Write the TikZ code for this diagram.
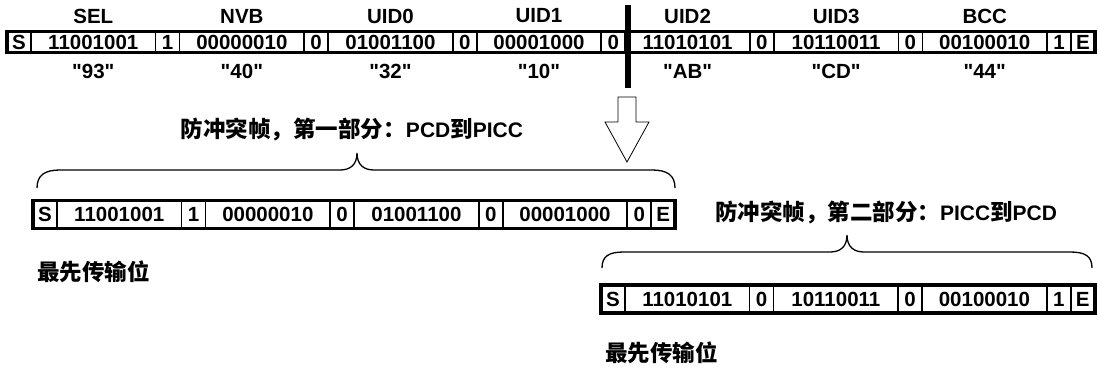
\documentclass[tikz,border=0pt]{standalone}
\usepackage{fontspec}
\setmainfont{Liberation Sans}
\newfontfamily\plainfont{Liberation Sans}
\newfontfamily\cjk{Noto Sans CJK SC}
\usetikzlibrary{calc}
\newcommand\zh[1]{{\cjk\bfseries\fontsize{22.5}{24}\selectfont #1}}
\tikzset{
  cell/.style={draw, line width=1.6pt, inner sep=0pt, outer sep=0pt, anchor=west,
    font=\bfseries\fontsize{20.5}{22}\selectfont},
  frame/.style={line width=3.6pt},
  lbl/.style={inner sep=0pt, font=\plainfont\bfseries\fontsize{20.5}{22}\selectfont},
  title/.style={inner sep=0pt, font=\bfseries\fontsize{21}{22}\selectfont},
  brace/.style={line width=1.3pt},
  hollow/.style={line width=0.8pt, fill=white, line join=miter},
}
\begin{document}
\begin{tikzpicture}[x=1pt, y=-1pt]
\path[use as bounding box] (0,0) rectangle (1098,372);

% ---- top row ----
\foreach \t/\w [count=\i] in {S/24,11001001/124.57,1/24,00000010/124.57,0/24,01001100/124.57,0/24,00001000/124.57,0/24,11010101/124.57,0/24,10110011/124.57,0/24,00100010/124.57,1/24,E/24}{
  \ifnum\i=1
    \node[cell, minimum width=\w pt, minimum height=21pt] (t\i) at (7,42) {\t};
  \else
    \pgfmathtruncatemacro\j{\i-1}
    \node[cell, minimum width=\w pt, minimum height=21pt] (t\i) at (t\j.east) {\t};
  \fi
}
\draw[frame] (t1.north west) rectangle (t16.south east);

\foreach \n/\h/\q in {2/SEL/93,4/NVB/40,6/UID0/32,8/UID1/10,10/UID2/AB,12/UID3/CD,14/BCC/44}{
  \node[lbl, yshift=26pt] (h\n) at (t\n.center) {\h};
  \node[lbl, yshift=-29pt] (q\n) at (t\n.center) {"\q"};
}

% divider
\draw[line width=6pt] (628,5) -- (628,88);

% hollow down arrow
\draw[hollow] (618,97) -- (636,97) -- (636,122) -- (649,122) -- (627,162) -- (605,122) -- (618,122) -- cycle;

% ---- part 1 ----
\node[title] (ti1) at (352,130) {\zh{防冲突帧，第一部分：}PCD\zh{到}PICC};
\draw[brace] (37,188) .. controls (37,175) and (45,170) .. (60,170) -- (340,170)
  .. controls (350,170) and (357,165) .. (357,153)
  .. controls (357,165) and (364,170) .. (374,170) -- (652,170)
  .. controls (667,170) and (675,175) .. (675,188);

\foreach \t/\w [count=\i] in {S/24,11001001/124.57,1/24,00000010/124.57,0/24,01001100/124.57,0/24,00001000/124.57,0/24,E/24}{
  \ifnum\i=1
    \node[cell, minimum width=\w pt, minimum height=28pt] (a\i) at (33,214.5) {\t};
  \else
    \pgfmathtruncatemacro\j{\i-1}
    \node[cell, minimum width=\w pt, minimum height=28pt] (a\i) at (a\j.east) {\t};
  \fi
}
\draw[frame] (a1.north west) rectangle (a10.south east);
\node[anchor=west, inner sep=0pt] (f1) at (37,272) {\zh{最先传输位}};

% ---- part 2 ----
\node[title] (ti2) at (886,213) {\zh{防冲突帧，第二部分：}PICC\zh{到}PCD};
\draw[brace] (602,268) .. controls (602,256) and (609,252) .. (624,252) -- (830,252)
  .. controls (840,252) and (847,247) .. (847,235)
  .. controls (847,247) and (854,252) .. (864,252) -- (1070,252)
  .. controls (1085,252) and (1092,256) .. (1092,268);

\foreach \t/\w [count=\i] in {S/24,11010101/124.57,0/24,10110011/124.57,0/24,00100010/124.57,1/24,E/24}{
  \ifnum\i=1
    \node[cell, minimum width=\w pt, minimum height=28pt] (b\i) at (601,299) {\t};
  \else
    \pgfmathtruncatemacro\j{\i-1}
    \node[cell, minimum width=\w pt, minimum height=28pt] (b\i) at (b\j.east) {\t};
  \fi
}
\draw[frame] (b1.north west) rectangle (b8.south east);
\node[anchor=west, inner sep=0pt] (f2) at (605,353) {\zh{最先传输位}};
\end{tikzpicture}
\end{document}
